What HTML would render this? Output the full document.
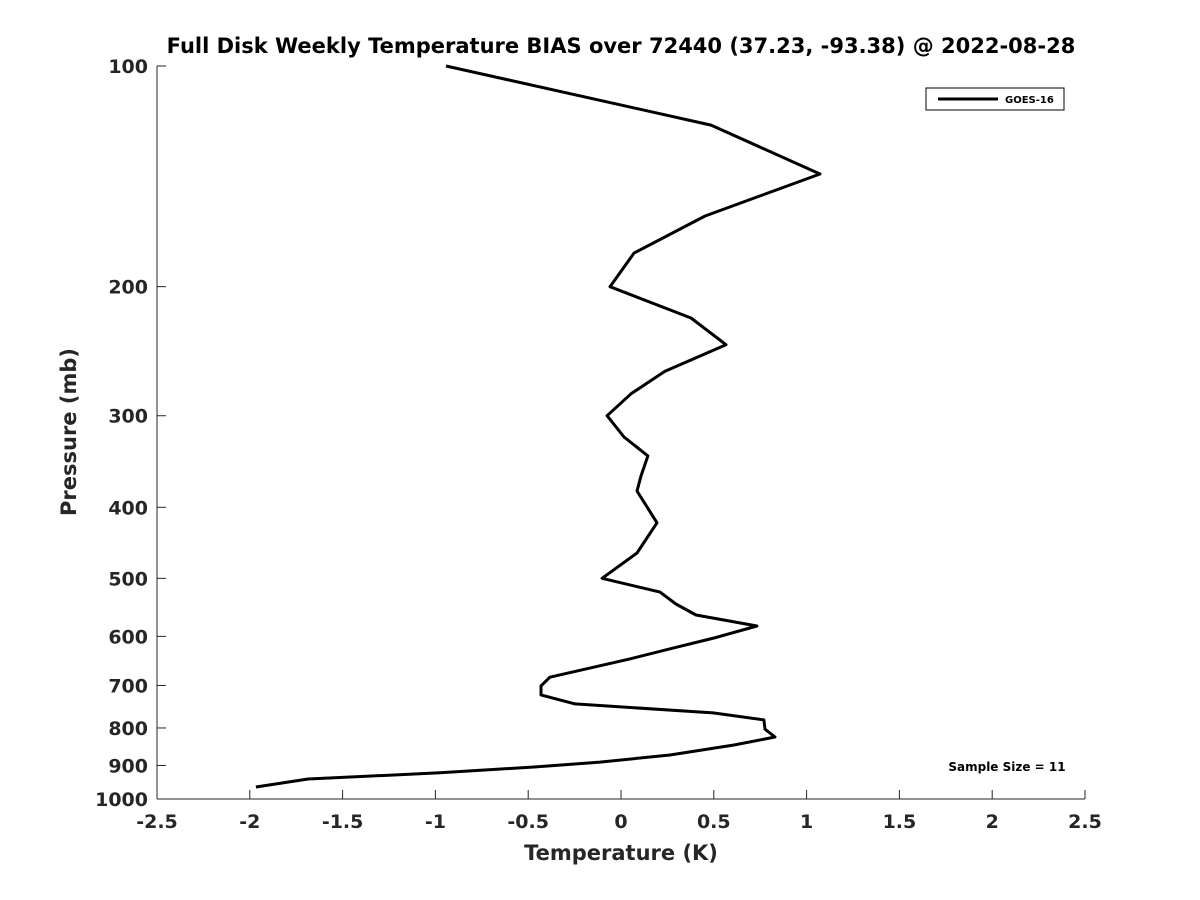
<!DOCTYPE html>
<html><head><meta charset="utf-8"><style>
body{margin:0;background:#fff;}
svg{display:block;font-family:"DejaVu Sans","Liberation Sans",sans-serif;}
</style></head><body>
<svg id="chart" width="1200" height="900">
<text x="621" y="53" text-anchor="middle" font-size="21" font-weight="bold">Full Disk Weekly Temperature BIAS over 72440 (37.23, -93.38) @ 2022-08-28</text>
<g id="axes"></g>
<path id="line" fill="none" stroke="#000" stroke-width="3" stroke-linejoin="round"/>
<g>
<rect x="926" y="88" width="138" height="22" fill="#fff" stroke="#000" stroke-width="1"/>
<line x1="938" y1="99" x2="998" y2="99" stroke="#000" stroke-width="3"/>
<text x="1005" y="103" font-size="10" font-weight="bold">GOES-16</text>
</g>
<text x="1007" y="771" text-anchor="middle" font-size="12" font-weight="bold">Sample Size = 11</text>
<text x="621" y="860" text-anchor="middle" font-size="21" font-weight="bold" fill="#262626">Temperature (K)</text>
<text transform="translate(76,432) rotate(-90)" text-anchor="middle" font-size="21" font-weight="bold" fill="#262626">Pressure (mb)</text>
</svg>
<script>
const temps=[-0.943,0.485,1.072,0.453,0.070,-0.059,0.377,0.566,0.237,0.054,-0.075,0.016,0.145,0.108,0.086,0.194,0.086,-0.102,0.21,0.296,0.404,0.733,0.501,0.286,0.048,-0.383,-0.431,-0.431,-0.248,0.496,0.770,0.776,0.830,0.609,0.264,-0.113,-0.458,-0.975,-1.686,-1.967];
const pressures=[100,120.4,140.4,160.2,180,200,220.7,240,260.8,280,300,320.7,340.4,362.5,380,420,461.8,500,522,542,561,580.8,603,622,644,682,701,721,741.7,763,780,803,823,844,871,890.5,904,921,939,963];
const xTicks=[-2.5,-2,-1.5,-1,-0.5,0,0.5,1,1.5,2,2.5];
const yTicks=[100,200,300,400,500,600,700,800,900,1000];
const X0=157,X1=1085,Y0=66,Y1=799;
function xs(t){return X0+(t+2.5)/5*(X1-X0);}
function ys(p){return Y0+Math.log10(p/100)*(Y1-Y0);}
const NS="http://www.w3.org/2000/svg";
const ax=document.getElementById('axes');
function mk(tag,attrs,parent){const e=document.createElementNS(NS,tag);for(const k in attrs)e.setAttribute(k,attrs[k]);parent.appendChild(e);return e;}
const yl=mk('line',{x1:X0,y1:Y0,x2:X0,y2:Y1,stroke:'#262626','stroke-width':1},ax);


const xl=mk('line',{x1:X0,y1:Y1,x2:X1,y2:Y1,stroke:'#262626','stroke-width':1},ax);


xTicks.forEach(t=>{
 const x=xs(t);
 mk('line',{x1:x,y1:Y1,x2:x,y2:Y1-9,stroke:'#262626'},ax);
 const tx=mk('text',{x:x,y:Y1+29,'text-anchor':'middle','font-size':19,'font-weight':'bold',fill:'#262626'},ax);
 tx.textContent=String(t);
 
 
});
yTicks.forEach(p=>{
 const y=ys(p);
 mk('line',{x1:X0,y1:y,x2:X0+9,y2:y,stroke:'#262626'},ax);
 const tx=mk('text',{x:X0-9,y:y+7,'text-anchor':'end','font-size':19,'font-weight':'bold',fill:'#262626'},ax);
 tx.textContent=String(p);
 
 
});
document.getElementById('line').setAttribute('d',temps.map((t,i)=>(i?'L':'M')+xs(t).toFixed(1)+','+ys(pressures[i]).toFixed(1)).join(''));
</script>
</body></html>
